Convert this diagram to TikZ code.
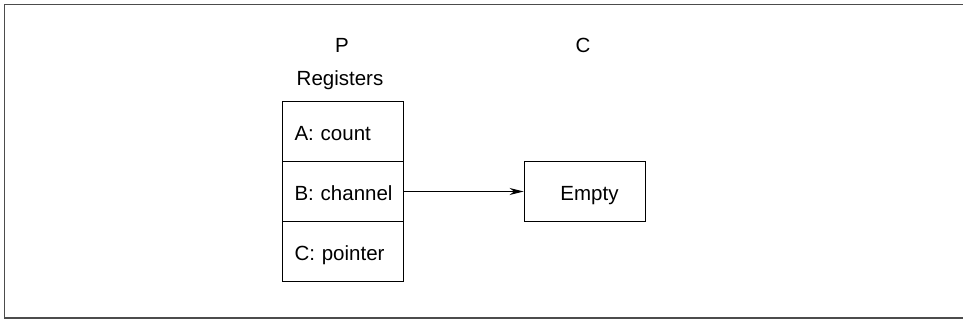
\documentclass[tikz,border=0pt]{standalone}
\usepackage{fontspec}
\setmainfont{Liberation Sans}
\usetikzlibrary{arrows.meta}
\begin{document}
\begin{tikzpicture}[x=1pt,y=-1pt,
  txt/.style={font=\fontsize{20.5}{24}\selectfont},
  cell/.style={txt, draw, line width=0.9pt, minimum width=121pt, minimum height=60pt,
    text width=108pt, align=left, inner sep=0pt, text height=17pt, text depth=-3pt},
  label/.style={txt, inner sep=0pt},
  box/.style={txt, draw, line width=0.9pt, minimum width=121pt, minimum height=60pt,
    inner sep=0pt, text height=17pt, text depth=-3pt}]
\useasboundingbox (0,0) rectangle (963,322);
% open frame: top, left and bottom sides
\draw[line width=1.2pt, gray!60!black] (963,4.5) -- (4.5,4.5) -- (4.5,318) -- (963,318);
% headings
\node[label] (p) at (342,45) {P};
\node[label] (c) at (583,45) {C};
\node[label] (regs) at (340,80) {Registers};
% register stack
\node[cell] (ra) at (342.5,131.5) {\mbox{\hspace*{6pt}A: count}};
\node[cell] (rb) at (342.5,191.5) {\mbox{\hspace*{6pt}B: channel}};
\node[cell] (rc) at (342.5,251.5) {\mbox{\hspace*{6pt}C: pointer}};
% channel target
\node[box] (empty) at (584.5,191.5) {\hspace*{10pt}Empty};
\draw[line width=1pt, -{Stealth[length=14pt,width=7pt]}] (rb.east) -- (empty.west);
\end{tikzpicture}
\end{document}
